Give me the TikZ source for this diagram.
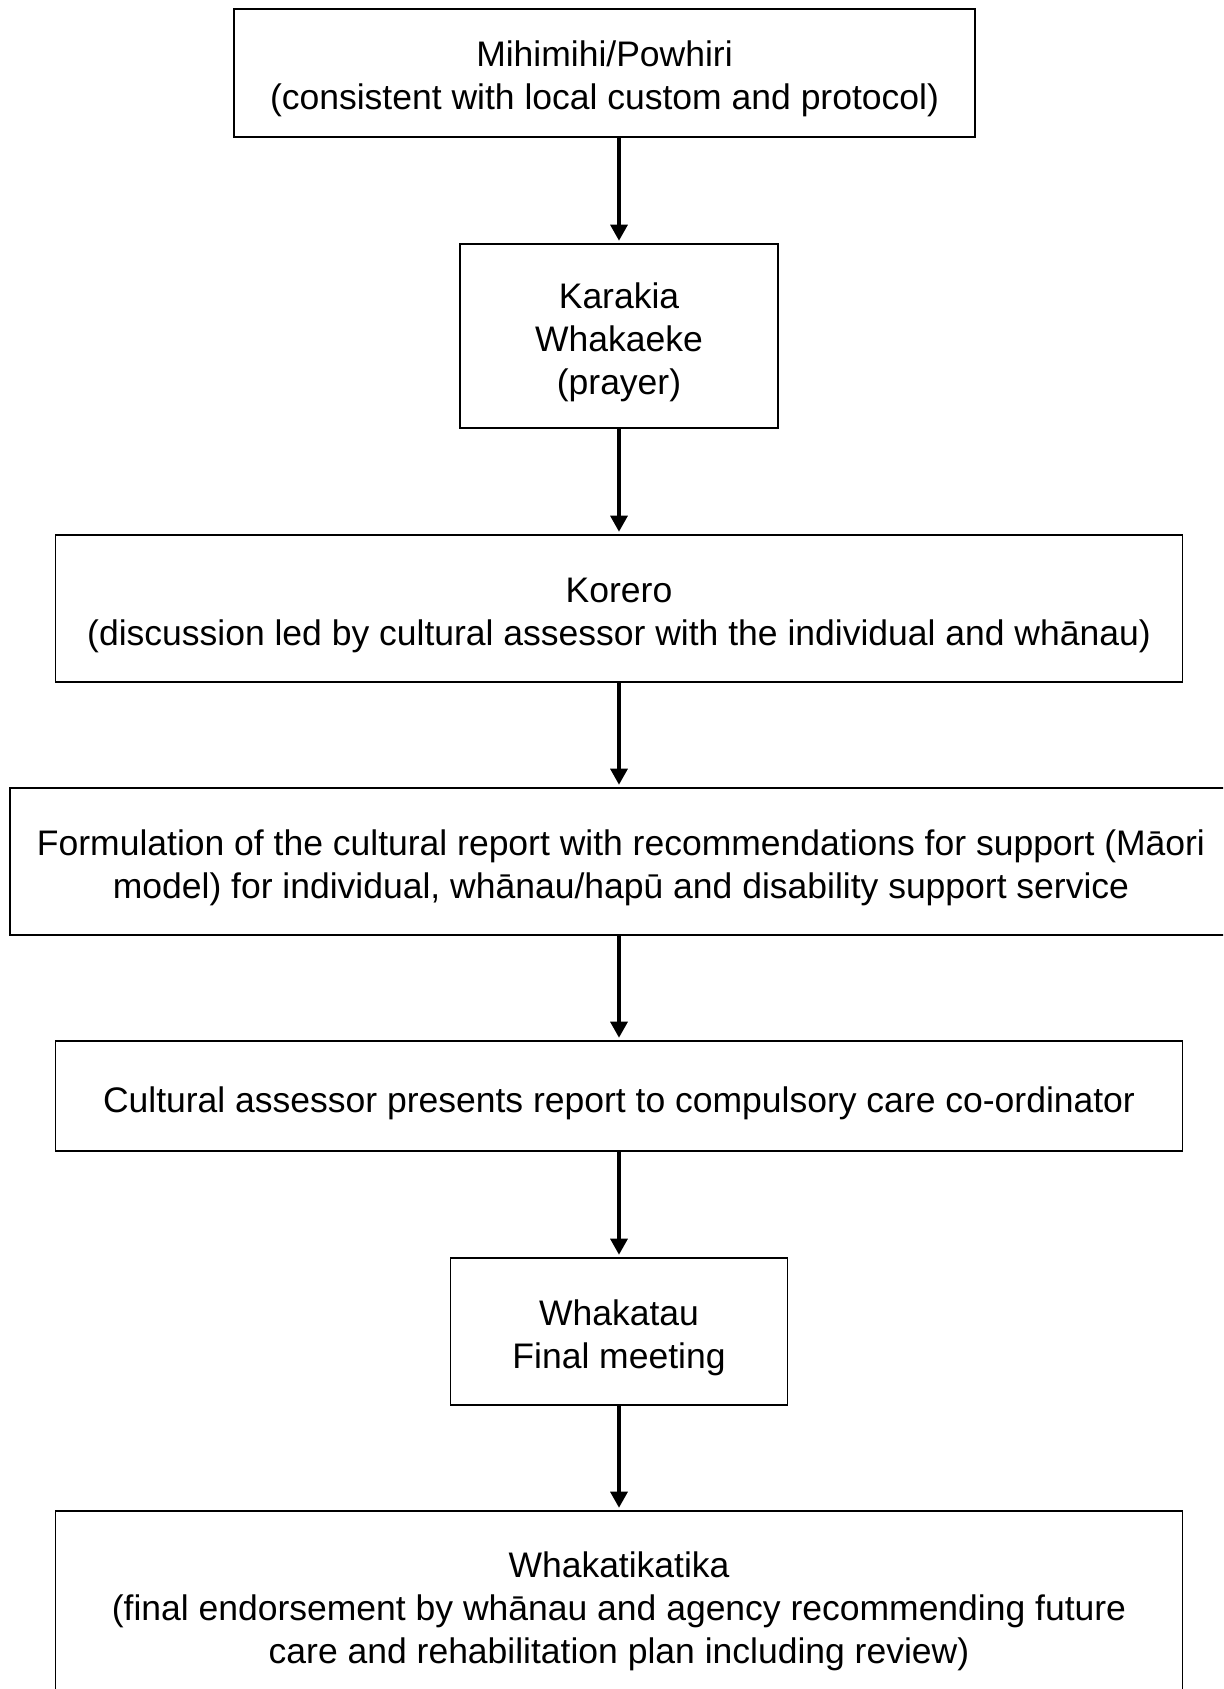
\documentclass[tikz,border=0pt]{standalone}
\usepackage{fontspec}
\setmainfont{Liberation Sans}
\usetikzlibrary{arrows.meta}
\tikzset{
  stepbox/.style={draw=black, line width=0.9pt, rectangle, inner sep=0pt},
  steptext/.style={inner sep=0pt, align=center, font=\fontsize{17.75}{21.5}\selectfont},
  arr/.style={draw=black, line width=1.6pt, -{Triangle[length=8pt,width=8.5pt]}, shorten >=1.2pt}
}
\begin{document}
\begin{tikzpicture}[x=0.5pt,y=-0.5pt]
\clip (0,0) rectangle (1223,1689);
\fill[white] (0,0) rectangle (1223,1689);
\node[stepbox, minimum width=370.5pt, minimum height=64pt] (b1) at (604.5,73) {};
\node[steptext] (t1) at (604.5,79)
  {Mihimihi/Powhiri\\(consistent with local custom and protocol)};
\node[stepbox, minimum width=159pt, minimum height=92pt] (b2) at (619,336) {};
\node[steptext] (t2) at (619,342)
  {Karakia\\Whakaeke\\(prayer)};
\node[stepbox, minimum width=563.5pt, minimum height=73.5pt] (b3) at (619,608.5) {};
\node[steptext] (t3) at (619,615)
  {Korero\\(discussion led by cultural assessor with the individual and whānau)};
\node[stepbox, minimum width=610pt, minimum height=73.5pt] (b4) at (620,861.5) {};
\node[steptext] (t4) at (621,868)
  {Formulation of the cultural report with recommendations for support (Māori\\model) for individual, whānau/hapū and disability support service};
\node[stepbox, minimum width=563.5pt, minimum height=55pt] (b5) at (619,1096) {};
\node[steptext] (t5) at (619,1103)
  {Cultural assessor presents report to compulsory care co-ordinator};
\node[stepbox, minimum width=168.5pt, minimum height=73.5pt] (b6) at (619,1331.5) {};
\node[steptext] (t6) at (619,1338)
  {Whakatau\\Final meeting};
\node[stepbox, minimum width=563.5pt, minimum height=94pt] (b7) at (619,1605) {};
\node[steptext] (t7) at (619,1611)
  {Whakatikatika\\(final endorsement by whānau and agency recommending future\\care and rehabilitation plan including review)};
\draw[arr] (b1.south -| b2.center) -- (b2.north);
\draw[arr] (b2.south) -- (b3.north -| b2.center);
\draw[arr] (b3.south -| b2.center) -- (b4.north -| b2.center);
\draw[arr] (b4.south -| b2.center) -- (b5.north -| b2.center);
\draw[arr] (b5.south -| b2.center) -- (b6.north -| b2.center);
\draw[arr] (b6.south -| b2.center) -- (b7.north -| b2.center);
\end{tikzpicture}
\end{document}
